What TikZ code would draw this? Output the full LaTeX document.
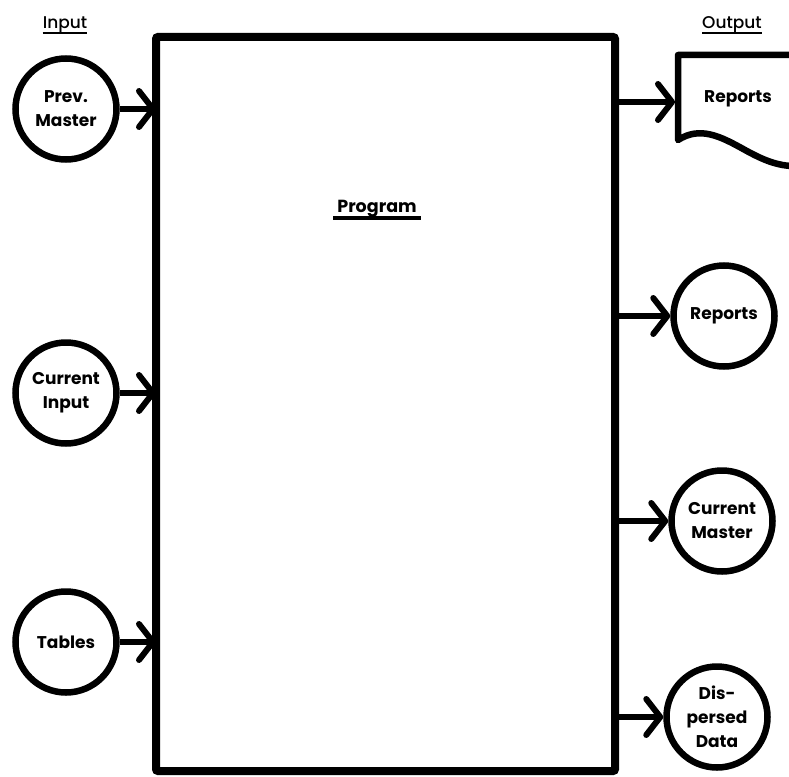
\documentclass[tikz,border=0pt]{standalone}
\usepackage{fontspec}
\setmainfont{Poppins}
\newfontfamily\medfont{Poppins Medium}
\usetikzlibrary{arrows.meta}
\begin{document}
\begin{tikzpicture}[x=1pt,y=-1pt]

\def \lx {66}
\def \rx {722}

\tikzset{store/.style = {draw, circle, line width=6.5pt, minimum size=101pt, inner sep=0pt, align=center, font=\fontsize{17}{24}\selectfont\bfseries}}
\tikzset{progbox/.style = {draw, line width=8pt, rounded corners=2pt, minimum width=459pt, minimum height=734pt, outer sep=0pt}}
\tikzset{flow/.style = {line width=6pt, -{Straight Barb[length=14pt, width=36pt, line width=6pt, round]}}}
\tikzset{side/.style = {anchor=base, inner sep=0pt, font=\fontsize{17}{20}\selectfont\medfont}}

\useasboundingbox (0,0) rectangle (789,776);

\node[progbox] (prog) at (385.5,404) {};
\node[anchor=base, inner sep=0pt, font=\fontsize{17.5}{20}\selectfont\bfseries] (proglabel) at (377,212) {Program};
\draw[line width=3.5pt] ([shift={(-4,6)}]proglabel.base west) -- ([shift={(4,6)}]proglabel.base east);

\node[side] (inlabel) at (65,29) {Input};
\draw[line width=1.5pt] ([shift={(0,4)}]inlabel.base west) -- ([shift={(0,4)}]inlabel.base east);
\node[side] (outlabel) at (732,29) {Output};
\draw[line width=1.5pt] ([shift={(0,4)}]outlabel.base west) -- ([shift={(0,4)}]outlabel.base east);

\node[store] (prev) at (\lx,109) {Prev.\\Master};
\node[store] (cur) at (\lx,393) {Current\\Input};
\node[store] (tab) at (\lx,642) {Tables};

\foreach \v in {prev, cur, tab}
{
	\draw[flow] (\v.east) -- (\v.east -| prog.west);
}

\draw[line width=6.5pt, line join=round] (800,55) -- (678,55) -- (678,140)
	.. controls (700,126) and (720,136) .. (745,150)
	.. controls (765,161) and (780,167) .. (800,166);
\node[inner sep=0pt, font=\fontsize{17}{24}\selectfont\bfseries] (doc) at (738,99) {Reports};
\coordinate (docin) at (675,102);

\node[store] (rep) at (\rx+2,316) {Reports};
\node[store] (curm) at (\rx,521) {Current\\Master};
\node[store] (disp) at (\rx-5,717) {Dis-\\persed\\Data};

\draw[flow] (docin -| prog.east) -- (docin);
\foreach \v in {rep, curm, disp}
{
	\draw[flow] (\v.west -| prog.east) -- (\v.west);
}

\end{tikzpicture}
\end{document}
